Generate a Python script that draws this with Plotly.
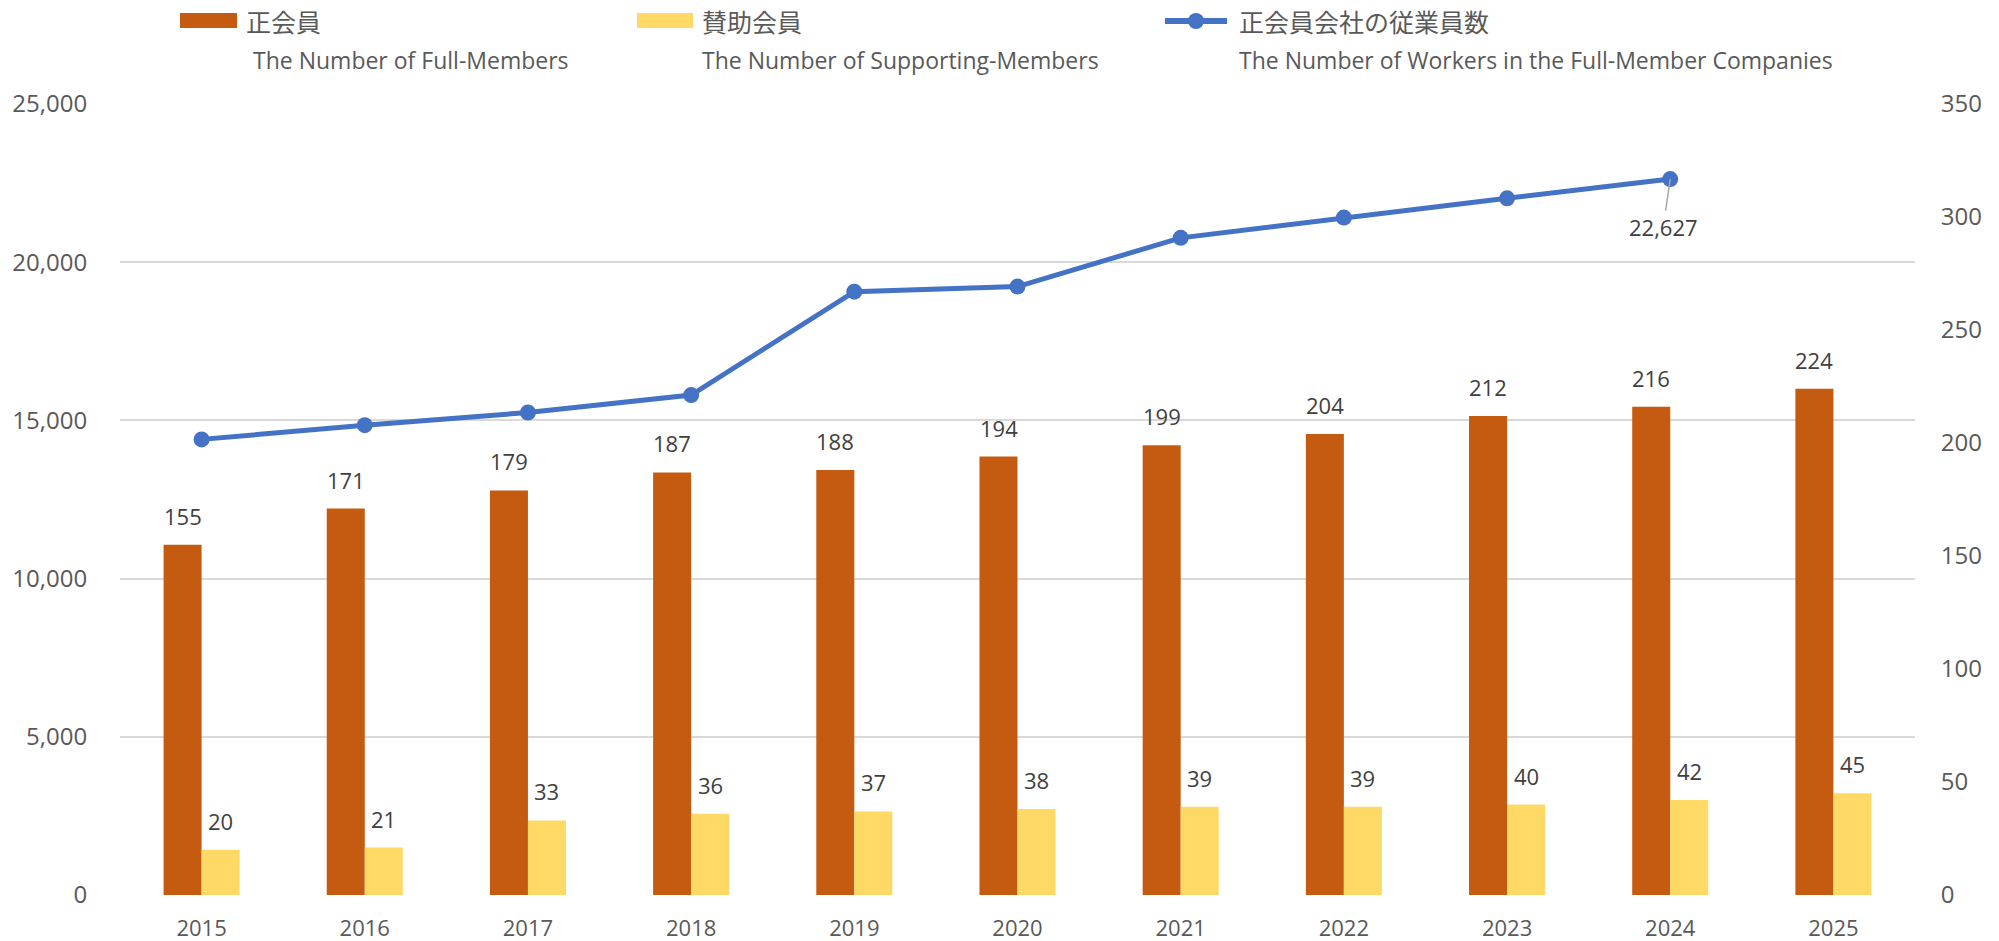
import plotly.graph_objects as go

# ---- data ----
years = ["2015", "2016", "2017", "2018", "2019", "2020", "2021", "2022", "2023", "2024", "2025"]
full_members = [155, 171, 179, 187, 188, 194, 199, 204, 212, 216, 224]
supporting_members = [20, 21, 33, 36, 37, 38, 39, 39, 40, 42, 45]
workers = [14400, 14850, 15250, 15800, 19070, 19230, 20770, 21410, 22020, 22627, None]

name_full_jp = "正会員"
name_full_en = "The Number of Full-Members"
name_supp_jp = "賛助会員"
name_supp_en = "The Number of Supporting-Members"
name_work_jp = "正会員会社の従業員数"
name_work_en = "The Number of Workers in the Full-Member Companies"

left_ticks = [0, 5000, 10000, 15000, 20000, 25000]
right_ticks = [0, 50, 100, 150, 200, 250, 300, 350]

# ---- style ----
ORANGE = "#C55A11"
YELLOW = "#FFD966"
BLUE = "#4472C4"
GRID = "#D9D9D9"
TICK = "#595959"
LABEL = "#404040"
FONT = "Open Sans, Noto Sans CJK JP, sans-serif"
JFONT = "Noto Sans CJK JP, sans-serif"

W, H = 1999, 941
L, R, T, B = 120, 84, 104, 46
PW, PH = W - L - R, H - T - B


def px(x):
    return (x - L) / PW


def py(y):
    return (H - B - y) / PH


fig = go.Figure()

fig.add_trace(go.Scatter(
    x=years, y=workers, mode="lines+markers", name=name_work_jp,
    line=dict(color=BLUE, width=5), marker=dict(size=16, color=BLUE),
    yaxis="y", showlegend=False, connectgaps=False,
))
fig.add_trace(go.Bar(
    x=years, y=full_members, name=name_full_jp, marker=dict(color=ORANGE, line=dict(width=0)),
    yaxis="y2", showlegend=False,
))
fig.add_trace(go.Bar(
    x=years, y=supporting_members, name=name_supp_jp, marker=dict(color=YELLOW, line=dict(width=0)),
    yaxis="y2", showlegend=False,
))

annotations = []
for i, v in enumerate(full_members):
    annotations.append(dict(x=i, y=v, xref="x", yref="y2", text=str(v), showarrow=False,
                            xshift=-19, yshift=29, font=dict(family=FONT, size=22, color=LABEL)))
for i, v in enumerate(supporting_members):
    annotations.append(dict(x=i, y=v, xref="x", yref="y2", text=str(v), showarrow=False,
                            xshift=19, yshift=29, font=dict(family=FONT, size=22, color=LABEL)))

# label of last worker value
last_i = max(i for i, v in enumerate(workers) if v is not None)
annotations.append(dict(x=last_i, y=workers[last_i], xref="x", yref="y",
                        text=f"{workers[last_i]:,}", showarrow=True, arrowhead=0,
                        arrowwidth=1.5, arrowcolor="#A6A6A6", ax=-7, ay=48, standoff=0,
                        font=dict(family=FONT, size=22, color=LABEL)))

# legend (drawn as layout decoration)
shapes = []
legend_items = [
    (180, 237, 244, 251, name_full_jp, name_full_en, "rect", ORANGE),
    (637, 693, 700, 700, name_supp_jp, name_supp_en, "rect", YELLOW),
    (1165, 1227, 1237, 1237, name_work_jp, name_work_en, "line", BLUE),
]
for x0, x1, xj, xe, jp, en, kind, col in legend_items:
    if kind == "rect":
        shapes.append(dict(type="rect", xref="paper", yref="paper", x0=px(x0), x1=px(x1),
                           y0=py(28), y1=py(13), fillcolor=col, line=dict(width=0), layer="above"))
    else:
        shapes.append(dict(type="line", xref="paper", yref="paper", x0=px(x0), x1=px(x1),
                           y0=py(21), y1=py(21), line=dict(color=col, width=6), layer="above"))
        cx = (x0 + x1) / 2
        shapes.append(dict(type="circle", xref="paper", yref="paper", x0=px(cx - 8), x1=px(cx + 8),
                           y0=py(29), y1=py(13), fillcolor=col, line=dict(width=0), layer="above"))
    annotations.append(dict(x=px(xj), y=py(21), xref="paper", yref="paper", text=jp, showarrow=False,
                            xanchor="left", yanchor="middle", font=dict(family=JFONT, size=25, color=TICK)))
    annotations.append(dict(x=px(xe), y=py(60), xref="paper", yref="paper", text=en, showarrow=False,
                            xanchor="left", yanchor="middle", font=dict(family=FONT, size=23, color=TICK)))

fig.update_layout(
    width=W, height=H,
    margin=dict(l=L, r=R, t=T, b=B, pad=0, autoexpand=False),
    paper_bgcolor="white", plot_bgcolor="white",
    barmode="group", bargap=0.534, bargroupgap=0,
    showlegend=False,
    font=dict(family=FONT, size=22, color=TICK),
    xaxis=dict(type="category", range=[-0.5, len(years) - 0.5], showgrid=False, showline=False,
               zeroline=False, ticks="outside", ticklen=14, tickcolor="rgba(0,0,0,0)",
               automargin=False, tickfont=dict(family=FONT, size=22, color=TICK)),
    yaxis=dict(range=[0, 25000], tickvals=left_ticks, ticktext=[f"{v:,}" for v in left_ticks],
               showgrid=True, gridcolor=GRID, gridwidth=2, zeroline=False, showline=False,
               ticks="outside", ticklen=27, tickcolor="rgba(0,0,0,0)", side="left",
               automargin=False, tickfont=dict(family=FONT, size=24, color=TICK)),
    yaxis2=dict(range=[0, 350], tickvals=right_ticks, overlaying="y", side="right",
                showgrid=False, zeroline=False, showline=False,
                ticks="outside", ticklen=20, tickcolor="rgba(0,0,0,0)",
                automargin=False, tickfont=dict(family=FONT, size=24, color=TICK)),
    annotations=annotations,
    shapes=shapes,
)

fig.write_html("out.html", config={"displayModeBar": False},
               post_script="document.body.style.margin='0';")
